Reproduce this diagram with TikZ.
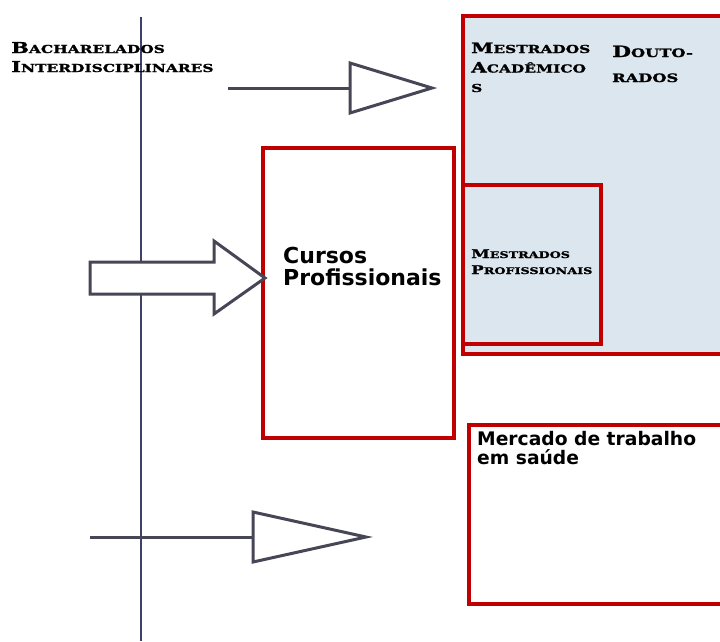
\documentclass[tikz,border=0pt]{standalone}
\usepackage{fontspec}
\setmainfont{DejaVu Sans}
\newfontfamily\capsfont[Extension=.ttf, UprightFont=*-Bold, FakeStretch=1.4, FakeBold=1.5]{DejaVuSerif}
\usepackage{xcolor}
\definecolor{axis}{HTML}{3F3F6A}
\definecolor{arrowc}{HTML}{464656}
\definecolor{boxred}{HTML}{C00000}
\definecolor{boxfill}{HTML}{DCE6EE}
\newcommand\sccap[3]{#2{\fontsize{#1}{#1}\selectfont #3}}
\tikzset{
  axisline/.style={draw=axis, line width=1.3pt},
  shaft/.style={draw=arrowc, line width=3pt},
  head/.style={draw=arrowc, fill=white, line width=3pt, line join=miter},
  redbox/.style={draw=boxred, line width=3.6pt},
  capslab/.style={anchor=base west, align=left, inner sep=0pt},
  sanslab/.style={anchor=base west, align=left, inner sep=0pt}
}
\begin{document}
\begin{tikzpicture}[x=1pt,y=-1pt]
  \useasboundingbox (0,0) rectangle (720,641);
  % boxes
  \draw[redbox, fill=boxfill] (463,16) rectangle (726,354);
  \draw[redbox] (463,185) rectangle (601,344);
  \draw[redbox, fill=white] (263,148) rectangle (454,438);
  \draw[redbox, fill=white] (469,425) rectangle (726,604);
  % time line
  \draw[axisline] (141,17) -- (141,641);
  % labels (anchored at the last baseline)
  \node[capslab, font=\capsfont\fontsize{15}{19}\selectfont] (bach) at (11,72)
    {\sccap{11}{B}{ACHARELADOS}\\\sccap{11}{I}{NTERDISCIPLINARES}};
  \node[capslab, font=\capsfont\fontsize{14.3}{19.5}\selectfont] (macad) at (471,92)
    {\sccap{11}{M}{ESTRADOS}\\\sccap{11}{A}{CADÊMICO}\\\sccap{11}{}{S}};
  \node[capslab, font=\capsfont\fontsize{15.5}{25}\selectfont] (dout) at (612,82)
    {\sccap{11.6}{D}{OUTO-}\\\sccap{11.6}{}{RADOS}};
  \node[capslab, font=\capsfont\fontsize{12}{16}\selectfont] (mprof) at (471,274)
    {\sccap{9.1}{M}{ESTRADOS}\\\sccap{9.1}{P}{ROFISSIONAIS}};
  \node[sanslab, font=\bfseries\fontsize{22}{22}\selectfont] (cursos) at (283,285)
    {Cursos\\Profissionais};
  \node[sanslab, font=\bfseries\fontsize{18.7}{19}\selectfont] (merc) at (477,464)
    {Mercado de trabalho\\em saúde};
  % arrows
  \coordinate (a1s) at (228,88);
  \coordinate (a1b) at (350,88);
  \draw[shaft] (a1s) -- (a1b);
  \draw[head] (a1b) -- ++(0,-25) -- (432,88) -- (350,113) -- cycle;
  \draw[head] (90,262) -- (214,262) -- (214,241) -- (265,278) -- (214,314)
    -- (214,294) -- (90,294) -- cycle;
  \coordinate (a3s) at (90,537);
  \coordinate (a3b) at (253,537);
  \draw[shaft] (a3s) -- (a3b);
  \draw[head] (a3b) -- ++(0,-25) -- (366,537) -- (253,562) -- cycle;
\end{tikzpicture}
\end{document}
